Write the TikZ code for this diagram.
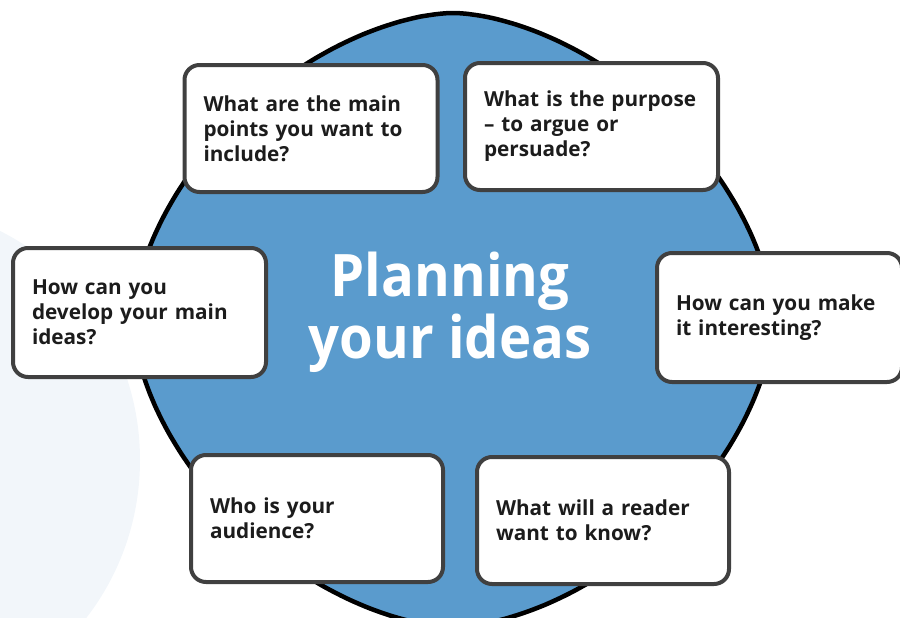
\documentclass[tikz,border=0pt]{standalone}
\usepackage{fontspec}
\setmainfont{Open Sans}
\newlength{\pxu}
\setlength{\pxu}{0.03cm}
\definecolor{planblue}{HTML}{5A9BCD}
\definecolor{boxline}{HTML}{404040}
\definecolor{haze}{HTML}{F2F6FA}
\definecolor{ink}{HTML}{1C1C1C}
\begin{document}
\begin{tikzpicture}[x=0.03cm,y=-0.03cm,
  qbox/.style={draw=boxline, line width=4\pxu, fill=white,
    rounded corners=15\pxu, inner xsep=19\pxu, inner ysep=0pt,
    text width=215\pxu, minimum height=127\pxu, align=left,
    font=\fontsize{17.7}{21.3}\selectfont\bfseries, text=ink},
  title/.style={align=center, text=white, xscale=0.93, transform shape,
    font=\fontsize{50}{53}\selectfont\bfseries}
]
\useasboundingbox (0,0) rectangle (900,617);

% pale backdrop on the left
\fill[haze] (-110,460) ellipse [x radius=250, y radius=255];

% central blue shape: a superellipse (exponent 1.7)
\draw[fill=planblue, draw=black, line width=4.5\pxu]
  plot[variable=\t, domain=0.5:360.5, samples=241, smooth]
    ({453+320*sign(cos(\t))*abs(cos(\t))^(1.176)},
     {320-307*sign(sin(\t))*abs(sin(\t))^(1.176)}) -- cycle;

\node[title] (centre) at (450,312) {Planning\\your ideas};

% question boxes
\node[qbox] (mainpoints) at (311,128.5)
  {What are the main\\points you want to\\include?};
\node[qbox] (purpose) at (591.5,126.5)
  {What is the purpose\\– to argue or\\persuade?};
\node[qbox, minimum height=129\pxu] (develop) at (139.5,312.5)
  {How can you\\develop your main\\ideas?};
\node[qbox, minimum height=129\pxu, text width=207\pxu] (interest) at (779.5,317.5)
  {How can you make\\it interesting?};
\node[qbox, text width=214\pxu] (audience) at (317,518.5)
  {Who is your\\audience?};
\node[qbox, text width=214\pxu] (reader) at (603,520.5)
  {What will a reader\\want to know?};
\end{tikzpicture}
\end{document}
